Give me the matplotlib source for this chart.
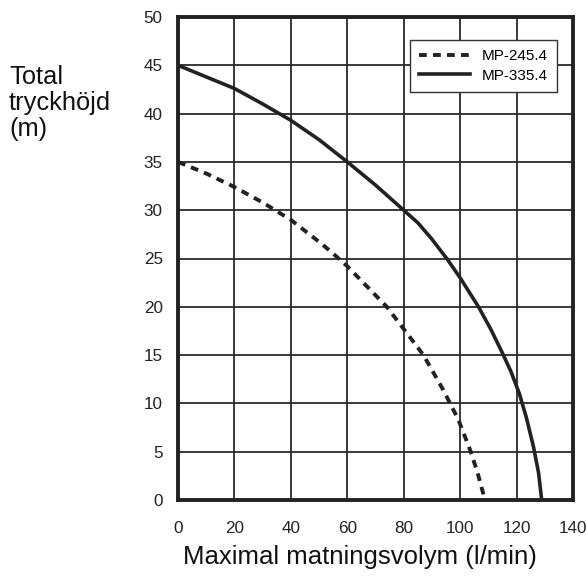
import matplotlib
matplotlib.use("Agg")
import matplotlib.pyplot as plt

plt.rcParams['font.family'] = ['Liberation Sans', 'DejaVu Sans']

# Data
x_mp245 = [0, 10, 20, 30, 40, 51, 55, 60, 67, 74, 80, 87, 94, 99.4, 103.5, 106, 108.8]
y_mp245 = [35, 33.8, 32.4, 30.8, 29.0, 26.5, 25.5, 24.2, 22.1, 20, 17.7, 15, 11.4, 8.3, 5.2, 3, 0]
x_mp335 = [0, 10, 20, 30, 40, 50, 60, 70, 80, 85, 90, 95.5, 100, 106.5, 111, 115, 118, 121, 123.5, 126, 127.8, 128.9]
y_mp335 = [45, 43.8, 42.6, 41.0, 39.3, 37.3, 35, 32.6, 30, 28.7, 27.0, 24.9, 23, 20, 17.6, 15.2, 13.3, 11.0, 8.5, 5.5, 2.8, 0]
series_names = ['MP-245.4', 'MP-335.4']
x_ticks = [0, 20, 40, 60, 80, 100, 120, 140]
y_ticks = [0, 5, 10, 15, 20, 25, 30, 35, 40, 45, 50]

W, H = 587, 579
fig = plt.figure(figsize=(W / 100, H / 100), dpi=100)
L, R, T, B = 178, 573, 17, 500
ax = fig.add_axes([L / W, 1 - B / H, (R - L) / W, (B - T) / H])

ax.plot(x_mp245, y_mp245, color='#222222', lw=2.8, ls=(0, (2.0, 1.6)), label=series_names[0])
ax.plot(x_mp335, y_mp335, color='#222222', lw=2.6, ls='-', label=series_names[1],
        solid_joinstyle='round')

ax.set_xlim(0, 140)
ax.set_ylim(0, 50)
ax.set_xticks(x_ticks)
ax.set_yticks(y_ticks)
ax.grid(True, color='#2a2a2a', lw=1.3)
ax.set_axisbelow(True)
for s in ax.spines.values():
    s.set_linewidth(2.8)
    s.set_color('#222222')
ax.tick_params(length=0, labelsize=12.3, colors='#222222')
ax.tick_params(axis='y', pad=11)
ax.tick_params(axis='x', pad=15)

fig.text(360 / W, 1 - 557 / H, 'Maximal matningsvolym (l/min)', fontsize=18.5,
         color='#111111', ha='center', va='center')
fig.text(9 / W, 1 - 103 / H, 'Total\ntryckhöjd\n(m)', fontsize=18.3, color='#111111',
         ha='left', va='center', linespacing=1.1)

leg = ax.legend(loc='upper right', fontsize=11, frameon=True, fancybox=False,
                edgecolor='#333333', handlelength=3.3, borderpad=0.6, labelspacing=0.35,
                borderaxespad=0,
                bbox_to_anchor=((557 - L) / (R - L), (B - 40) / (B - T)),
                bbox_transform=ax.transAxes, framealpha=1)
leg.get_frame().set_linewidth(1.0)

fig.savefig('out.png', dpi=100)
